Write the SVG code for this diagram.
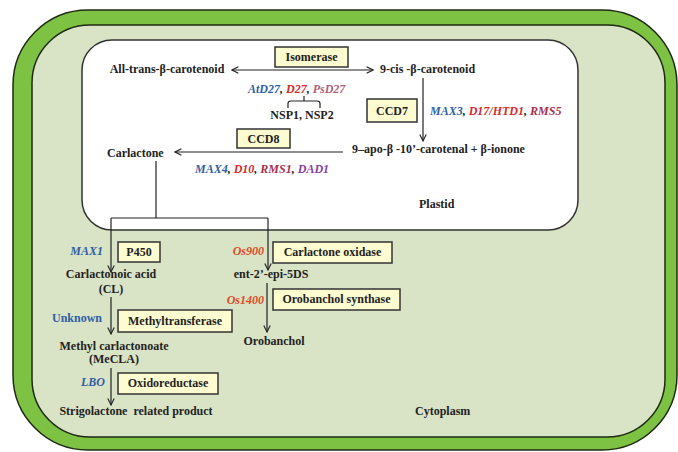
<svg xmlns="http://www.w3.org/2000/svg" width="678" height="452" viewBox="0 0 678 452">
<defs>
<marker id="ah" viewBox="0 0 10 10" refX="9" refY="5" markerWidth="8" markerHeight="8" markerUnits="userSpaceOnUse" orient="auto-start-reverse">
<path d="M1,1 L9,5 L1,9" fill="none" stroke="#222" stroke-width="1.4"/>
</marker>
</defs>
<style>
text{font-family:"Liberation Serif","Times New Roman",serif;font-weight:bold;font-size:12px;fill:#222}
.c{text-anchor:middle}
.e{text-anchor:end}
.i{font-style:italic}
.blue{fill:#2f5fa6}
.red{fill:#d42a2a}
.pink{fill:#b0607a}
.maroon{fill:#a8304a}
.purple{fill:#8a3ca8}
.orange{fill:#e04a28}
.box{fill:#fdfbd0;stroke:#333;stroke-width:1.5}
.ln{fill:none;stroke:#222;stroke-width:1.2}
.arr{fill:none;stroke:#222;stroke-width:1.2;marker-end:url(#ah)}
</style>
<rect x="0" y="0" width="678" height="452" fill="#ffffff"/>
<g id="cell">
<rect x="13" y="10" width="664" height="440" rx="75" ry="75" fill="#7dc242" stroke="#1e2a14" stroke-width="1.5"/>
<rect x="32" y="25" width="633" height="412" rx="58" ry="58" fill="#d9e3c5" stroke="#1e2a14" stroke-width="1.5"/>
<text x="415" y="415">Cytoplasm</text>
</g>
<g id="plastid">
<rect x="82" y="40" width="496" height="190" rx="30" ry="30" fill="#ffffff" stroke="#333" stroke-width="1.5"/>
<text x="419" y="208">Plastid</text>
</g>
<g id="connectors">
<line class="arr" x1="232" y1="70" x2="373" y2="70" style="marker-start:url(#ah)"/>
<path class="ln" d="M304,96 V101 M288,108 V103.5 Q288,101 291,101 H317 Q320,101 320,103.5 V108"/>
<line class="arr" x1="423" y1="78" x2="423" y2="141"/>
<line class="arr" x1="343" y1="152" x2="175" y2="152"/>
<path class="ln" d="M156,161 V218 M111,218 H268"/>
<line class="arr" x1="111" y1="218" x2="111" y2="272"/>
<line class="arr" x1="268" y1="218" x2="268" y2="270"/>
<line class="arr" x1="111" y1="297" x2="111" y2="334"/>
<line class="arr" x1="267" y1="283" x2="267" y2="332"/>
<line class="arr" x1="111" y1="368" x2="111" y2="405"/>
</g>
<g id="all-trans">
<text class="c" x="167" y="73">All-trans-β-carotenoid</text>
</g>
<g id="isomerase">
<rect class="box" x="275" y="47" width="73" height="20"/>
<text class="c" x="311.5" y="61">Isomerase</text>
</g>
<g id="nine-cis">
<text x="380" y="73">9-cis -β-carotenoid</text>
</g>
<g id="d27">
<text x="248" y="93" class="i"><tspan class="blue">AtD27</tspan>, <tspan class="red">D27</tspan>, <tspan class="pink">PsD27</tspan></text>
</g>
<g id="nsp">
<text class="c" x="302" y="119">NSP1, NSP2</text>
</g>
<g id="ccd7">
<rect class="box" x="367" y="99" width="50" height="23"/>
<text class="c" x="392" y="115">CCD7</text>
<text x="430" y="115" class="i"><tspan class="blue">MAX3</tspan>, <tspan class="red">D17/HTD1</tspan>, <tspan class="maroon">RMS5</tspan></text>
</g>
<g id="apo">
<text x="352" y="153">9–apo-β -10’-carotenal + β-ionone</text>
</g>
<g id="ccd8">
<rect class="box" x="237" y="129" width="53" height="19"/>
<text class="c" x="263.5" y="143">CCD8</text>
<text x="195" y="173" class="i"><tspan class="blue">MAX4</tspan>, <tspan class="red">D10</tspan>, <tspan class="maroon">RMS1</tspan>, <tspan class="purple">DAD1</tspan></text>
</g>
<g id="carlactone">
<text x="107" y="157">Carlactone</text>
</g>
<g id="p450">
<text class="e i blue" x="103" y="255">MAX1</text>
<rect class="box" x="118" y="242" width="42" height="20"/>
<text class="c" x="139" y="256">P450</text>
</g>
<g id="cl">
<text class="c" x="111" y="278">Carlactonoic acid</text>
<text class="c" x="111" y="293">(CL)</text>
</g>
<g id="oxidase">
<text class="e i orange" x="264" y="255">Os900</text>
<rect class="box" x="273" y="242" width="119" height="21"/>
<text class="c" x="332.5" y="256">Carlactone oxidase</text>
</g>
<g id="epi5ds">
<text class="c" x="271" y="278">ent-2’-epi-5DS</text>
</g>
<g id="orobanchol-synthase">
<text class="e i orange" x="264" y="304">Os1400</text>
<rect class="box" x="273" y="289" width="127" height="21"/>
<text class="c" x="336.5" y="303">Orobanchol synthase</text>
</g>
<g id="orobanchol">
<text class="c" x="274" y="345">Orobanchol</text>
</g>
<g id="methyltransferase">
<text class="e blue" x="102" y="322">Unknown</text>
<rect class="box" x="118" y="310" width="114" height="22"/>
<text class="c" x="175" y="325">Methyltransferase</text>
</g>
<g id="mecla">
<text class="c" x="114" y="350">Methyl carlactonoate</text>
<text class="c" x="114" y="363">(MeCLA)</text>
</g>
<g id="oxidoreductase">
<text class="e i blue" x="105" y="386">LBO</text>
<rect class="box" x="118" y="373" width="100" height="21"/>
<text class="c" x="168" y="387">Oxidoreductase</text>
</g>
<g id="sl-product">
<text class="c" x="136" y="415" style="white-space:pre">Strigolactone  related product</text>
</g>
</svg>
